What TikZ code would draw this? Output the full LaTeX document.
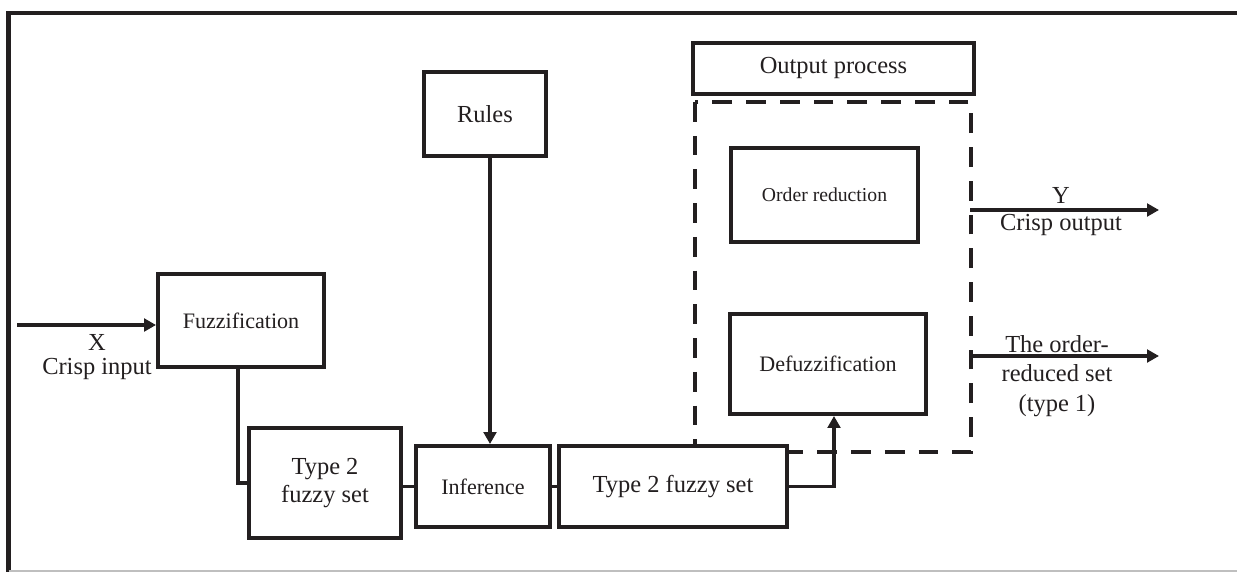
\documentclass[tikz,border=0pt]{standalone}
\usepackage{fontspec}
\setmainfont{Liberation Serif}
\usetikzlibrary{positioning}
\usetikzlibrary{arrows.meta}
\usetikzlibrary{calc}
\usepackage{xcolor}
\definecolor{ink}{HTML}{231F20}
\newcommand{\px}{0.025cm}

\begin{document}
\begin{tikzpicture}[
		x=0.025cm, y=-0.025cm,
		% Block styles
		block/.style={draw=ink, line width=2.8pt, inner sep=0pt, fill=white, text=ink, align=center, font=\fontsize{17.4}{20}\selectfont},
		smallblock/.style={block, font=\fontsize{15.7}{18}\selectfont},
		label/.style={text=ink, align=center, inner sep=0pt, font=\fontsize{17.4}{21}\selectfont},
		arrow/.style={-{Triangle[length=8.5pt, width=9pt]}, line width=2.8pt, draw=ink},
		link/.style={line width=2.8pt, draw=ink},
		]
		\useasboundingbox (0,0) rectangle (1237,572);

		% Frame
		\draw[ink, line width=3.5pt] (8.5,600) -- (8.5,13) -- (1245,13);
		\draw[black!25, line width=0.8pt] (8.5,571) -- (1237,571);

		% Output process group
		\draw[ink, line width=2.8pt, dash pattern=on 14pt off 10pt] (695,102) rectangle (971,452);
		\node[block, minimum width=281*\px, minimum height=51*\px] (outproc) at (833.5,68.5) {Output process};

		% Blocks
		\node[block, minimum width=122*\px, minimum height=84*\px] (rules) at (485,114) {Rules};
		\node[smallblock, minimum width=166*\px, minimum height=93*\px] (fuzz) at (241,320.5) {Fuzzification};
		\node[block, minimum width=152*\px, minimum height=110*\px] (tfsa) at (325,483) {Type 2\\fuzzy set};
		\node[smallblock, minimum width=134*\px, minimum height=81*\px] (infer) at (483,486.5) {Inference};
		\node[block, minimum width=228*\px, minimum height=81*\px] (tfsb) at (673,486.5) {Type 2 fuzzy set};
		\node[block, minimum width=187*\px, minimum height=94*\px, font=\fontsize{14}{17}\selectfont] (order) at (824.5,195) {Order reduction};
		\node[smallblock, minimum width=196*\px, minimum height=100*\px] (defuzz) at (828,364) {Defuzzification};

		% Free ends
		\coordinate (xin) at (17,325);
		\coordinate (yout) at (970,210);
		\coordinate (setout) at (970,356);
		\coordinate (yend) at (1159,210);
		\coordinate (setend) at (1159,356);

		% Connectors
		\draw[arrow] (xin) -- (xin -| fuzz.west);
		\draw[link] ([xshift=-3*\px]fuzz.south) |- (tfsa.west);
		\draw[link] (tfsa.east |- infer.west) -- (infer.west);
		\draw[link] (infer.east) -- (tfsb.west);
		\draw[arrow] ([xshift=5*\px]rules.south) -- ([xshift=5*\px]rules.south |- infer.north);
		\draw[arrow] (tfsb.east) -| ([xshift=6*\px]defuzz.south);
		\draw[arrow] (yout) -- (yend);
		\draw[arrow] (setout) -- (setend);

		% Labels
		\node[label] (xlab) at (97,342) {X};
		\node[label] (xtext) at (97,369) {Crisp input};
		\node[label] (ylab) at (1061,195) {Y};
		\node[label] (ytext) at (1061,225) {Crisp output};
		\node[label] (settext) at (1057,376) {The order-\\reduced set\\(type 1)};

	\end{tikzpicture}
\end{document}
